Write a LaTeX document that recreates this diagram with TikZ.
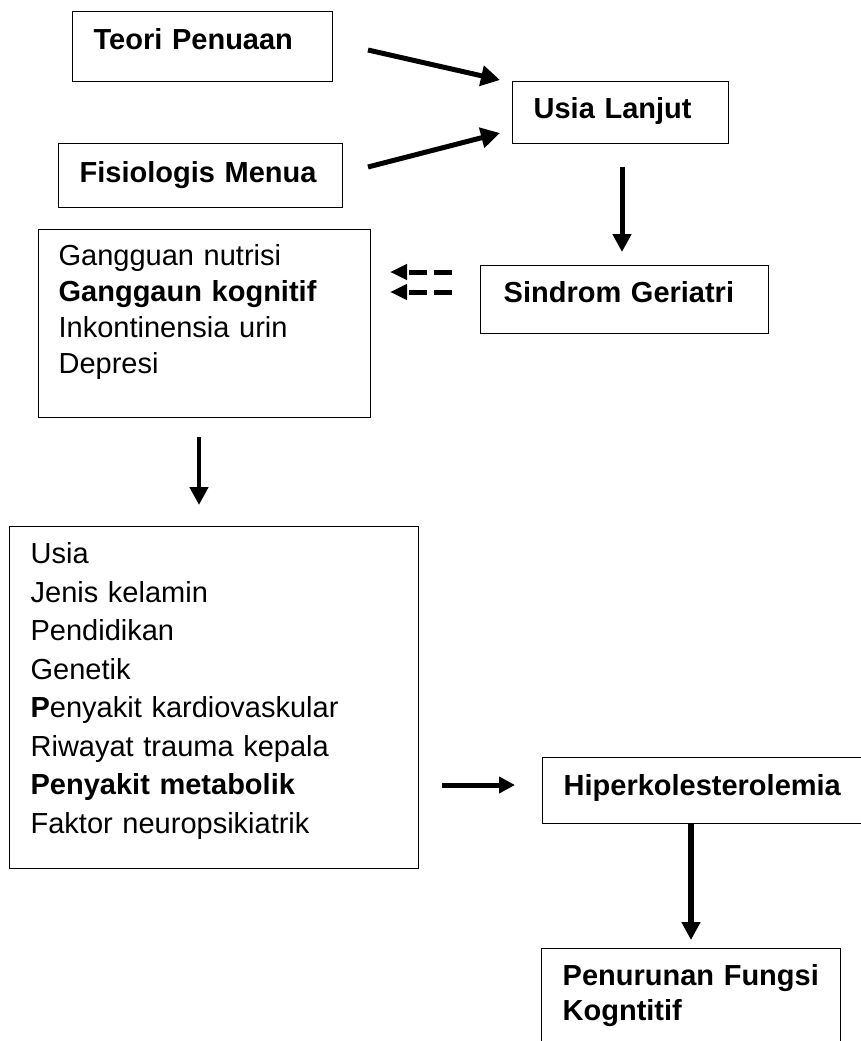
\documentclass[tikz,border=0pt]{standalone}
\usepackage{fontspec}
\setmainfont{Liberation Sans}
\usetikzlibrary{arrows.meta}
\begin{document}
\begin{tikzpicture}[x=1pt,y=-1pt,
  box/.style={draw=black, line width=1.3pt, anchor=north west, align=left, inner ysep=0pt,
              font=\fontsize{29}{36}\selectfont},
  arr/.style={line width=5pt, -{Triangle[length=19pt,width=20pt]}},
  darr/.style={line width=5pt, dash pattern=on 18pt off 7pt, -{Triangle[length=17pt,width=15pt]}}
]
\clip (0,0) rectangle (861,1041);
\fill[white] (0,0) rectangle (861,1041);

\node[box, inner xsep=21pt, text width=218pt, text height=38pt, text depth=32pt] (teori) at (72,11) {\textbf{Teori~Penuaan}};
\node[box, inner xsep=21pt, text width=174pt, text height=37pt, text depth=25pt] (usialanjut) at (512,81) {\textbf{Usia~Lanjut}};
\node[box, inner xsep=21pt, text width=242pt, text height=39pt, text depth=25pt] (fisio) at (58,143) {\textbf{Fisiologis~Menua}};
\node[box, inner xsep=20pt, text width=292pt, text height=36pt, text depth=152pt] (gangguan) at (38,229)
  {Gangguan nutrisi\\ \textbf{Ganggaun kognitif}\\ Inkontinensia urin\\ Depresi};
\node[box, inner xsep=23pt, text width=242pt, text height=37pt, text depth=31pt] (sindrom) at (480,265) {\textbf{Sindrom~Geriatri}};
\node[box, inner xsep=21pt, text width=367pt, text height=37pt, text depth=305pt,
      font=\fontsize{29}{38.5}\selectfont] (faktor) at (9,526)
  {Usia\\ Jenis kelamin\\ Pendidikan\\ Genetik\\ \textbf{P}enyakit kardiovaskular\\ Riwayat trauma kepala\\ \textbf{Penyakit metabolik}\\ Faktor neuropsikiatrik};
\node[box, inner xsep=21pt, text width=296pt, text height=38pt, text depth=28pt] (hiper) at (542,757) {\textbf{Hiperkolesterolemia}};
\node[box, inner xsep=21pt, text width=257pt, text height=37pt, text depth=85pt,
      font=\fontsize{29}{35}\selectfont] (penurunan) at (541,948) {\textbf{Penurunan~Fungsi}\\ \textbf{Kogntitif}};

\coordinate (a1s) at (368,50);  \coordinate (a1e) at (500,80);
\coordinate (a2s) at (368,167); \coordinate (a2e) at (500,133);
\coordinate (a3s) at (622,167); \coordinate (a3e) at (622,252);
\coordinate (d1s) at (452,272); \coordinate (d1e) at (390,272);
\coordinate (d2s) at (452,292); \coordinate (d2e) at (390,292);
\coordinate (a4s) at (199,437); \coordinate (a4e) at (199,505);
\coordinate (a5s) at (442,785); \coordinate (a5e) at (515,785);
\coordinate (a6s) at (691,823); \coordinate (a6e) at (691,940);

\draw[arr] (a1s) -- (a1e);
\draw[arr] (a2s) -- (a2e);
\draw[arr, line width=5pt, -{Triangle[length=18pt,width=18pt]}] (a3s) -- (a3e);
\draw[darr] (d1s) -- (d1e);
\draw[darr] (d2s) -- (d2e);
\draw[arr, line width=4.5pt, -{Triangle[length=18pt,width=18pt]}] (a4s) -- (a4e);
\draw[arr, line width=5pt, -{Triangle[length=16pt,width=16pt]}] (a5s) -- (a5e);
\draw[arr, line width=6pt, -{Triangle[length=18pt,width=18pt]}] (a6s) -- (a6e);
\end{tikzpicture}
\end{document}
